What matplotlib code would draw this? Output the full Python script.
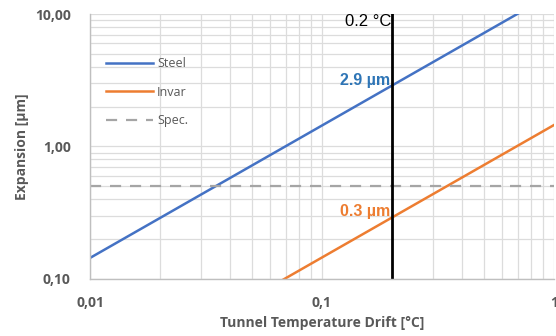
import matplotlib
matplotlib.use("Agg")
import matplotlib.pyplot as plt
from matplotlib.ticker import FixedLocator, FixedFormatter, LogLocator, NullFormatter

# data
drift = [0.01, 0.1, 1.0]
steel = [0.144, 1.44, 14.4]
invar = [0.0145, 0.145, 1.45]
spec_level = 0.5
marker_drift = 0.2
steel_at_marker = 2.9
invar_at_marker = 0.3
x_ticks = [0.01, 0.1, 1]
x_labels = ["0,01", "0,1", "1"]
y_ticks = [0.1, 1, 10]
y_labels = ["0,10", "1,00", "10,00"]

fig = plt.figure(figsize=(5.56, 3.36), dpi=100)
ax = fig.add_axes([0.162, 0.170, 0.834, 0.788])
ax.set_xscale("log")
ax.set_yscale("log")
ax.set_xlim(0.01, 1)
ax.set_ylim(0.1, 10)

grid_c = "#DCDCDC"
ax.xaxis.set_minor_locator(LogLocator(base=10, subs=range(2, 10)))
ax.yaxis.set_minor_locator(LogLocator(base=10, subs=range(2, 10)))
ax.xaxis.set_minor_formatter(NullFormatter())
ax.yaxis.set_minor_formatter(NullFormatter())
ax.grid(True, which="both", color=grid_c, linewidth=0.9)
ax.set_axisbelow(True)

ax.plot(drift, steel, color="#4472C4", linewidth=1.8, label="Steel")
ax.plot(drift, invar, color="#ED7D31", linewidth=1.8, label="Invar")
ax.axhline(spec_level, color="#A5A5A5", linewidth=1.6, linestyle=(0, (5, 4)), label="Spec.")
ax.axvline(marker_drift, color="black", linewidth=2)

ax.xaxis.set_major_locator(FixedLocator(x_ticks))
ax.xaxis.set_major_formatter(FixedFormatter(x_labels))
ax.yaxis.set_major_locator(FixedLocator(y_ticks))
ax.yaxis.set_major_formatter(FixedFormatter(y_labels))

tick_c = "#595959"
ax.tick_params(which="both", length=0)
ax.tick_params(axis="x", pad=12, labelsize=10, labelcolor=tick_c)
ax.tick_params(axis="y", pad=14, labelsize=10, labelcolor=tick_c)
for lab in ax.get_xticklabels() + ax.get_yticklabels():
    lab.set_fontweight("bold")
    lab.set_family("Open Sans")

for s in ["top", "right"]:
    ax.spines[s].set_visible(False)
for s in ["left", "bottom"]:
    ax.spines[s].set_color("#BFBFBF")
    ax.spines[s].set_linewidth(1.0)

ax.set_xlabel("Tunnel Temperature Drift [°C]", fontsize=10, fontweight="bold",
              color=tick_c, family="Open Sans", labelpad=5)
ax.set_ylabel("Expansion [µm]", fontsize=10, fontweight="bold",
              color=tick_c, family="Open Sans", labelpad=4)

leg = ax.legend(loc="upper left", bbox_to_anchor=(0.01, 0.88), frameon=False,
                fontsize=9, labelspacing=1.25, handlelength=3.8, handletextpad=0.3)
for t in leg.get_texts():
    t.set_color(tick_c)
    t.set_family("Open Sans")

ax.text(marker_drift, 8.8, "0.2 °C", ha="right", va="center", fontsize=12,
        color="black", family="Liberation Sans")
ax.text(marker_drift * 0.985, steel_at_marker * 1.08, f"{steel_at_marker} µm", ha="right",
        va="center", fontsize=11.5, fontweight="bold", color="#2E75B6", family="Liberation Sans")
ax.text(marker_drift * 0.985, invar_at_marker * 1.08, f"{invar_at_marker} µm", ha="right",
        va="center", fontsize=11.5, fontweight="bold", color="#ED7D31", family="Liberation Sans")

fig.savefig("out.png", dpi=100)
